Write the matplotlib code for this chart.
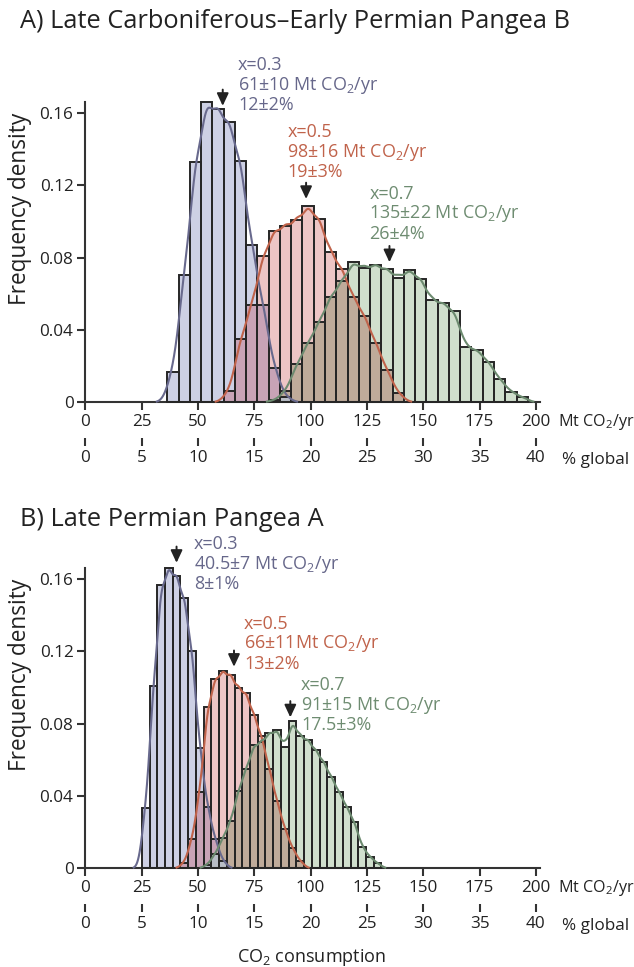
import numpy as np
import matplotlib
matplotlib.use('Agg')
import matplotlib.pyplot as plt

plt.rcParams['font.family'] = ['Open Sans', 'DejaVu Sans']
plt.rcParams['mathtext.fontset'] = 'custom'
plt.rcParams['mathtext.rm'] = 'Open Sans'

# ---- data: fraction per bin ----
# Panel A: bins of 5 Mt, first bin edge 36.4
bin_start_a, bin_w_a = 36.4, 5.0
blue_a = [0.017, 0.0705, 0.133, 0.166, 0.162, 0.155, 0.1335, 0.087, 0.054, 0.019, 0.003]
red_a_first = 5
red_a = [0.006, 0.035, 0.054, 0.081, 0.095, 0.0977, 0.101, 0.1085, 0.1015, 0.083, 0.074,
         0.0585, 0.048, 0.033, 0.018, 0.005]
green_a_first = 9
green_a = [0.001, 0.006, 0.021, 0.033, 0.0446, 0.0585, 0.067, 0.0775, 0.0745, 0.076, 0.0735,
           0.069, 0.0732, 0.0683, 0.0566, 0.0548, 0.0505, 0.0306, 0.029, 0.0225, 0.0129,
           0.0059, 0.0029]

# Panel B: bins of 3.43 Mt, first bin edge 25.1
bin_start_b, bin_w_b = 25.1, 3.43
blue_b = [0.0332, 0.1008, 0.157, 0.166, 0.1617, 0.1497, 0.1203, 0.0667, 0.034, 0.016, 0.004]
red_b_first = 5
red_b = [0.003, 0.016, 0.0424, 0.089, 0.105, 0.109, 0.107, 0.0996, 0.097, 0.085, 0.073,
         0.055, 0.037, 0.022, 0.011, 0.004]
green_b_first = 8
green_b = [0.002, 0.008, 0.017, 0.026, 0.043, 0.055, 0.068, 0.07, 0.0747, 0.0765, 0.067,
           0.0815, 0.073, 0.071, 0.0654, 0.059, 0.0507, 0.0424, 0.0341, 0.0258, 0.012,
           0.0064, 0.0028]

titles = ['A) Late Carboniferous\u2013Early Permian Pangea B', 'B) Late Permian Pangea A']
labels_a = ['x=0.3\n61\u00b110 Mt CO$_2$/yr\n12\u00b12%',
            'x=0.5\n98\u00b116 Mt CO$_2$/yr\n19\u00b13%',
            'x=0.7\n135\u00b122 Mt CO$_2$/yr\n26\u00b14%']
labels_b = ['x=0.3\n40.5\u00b17 Mt CO$_2$/yr\n8\u00b11%',
            'x=0.5\n66\u00b111Mt CO$_2$/yr\n13\u00b12%',
            'x=0.7\n91\u00b115 Mt CO$_2$/yr\n17.5\u00b13%']
means_a = [61, 98, 135]
means_b = [40.5, 66, 91]

mt_ticks = [0, 25, 50, 75, 100, 125, 150, 175, 200]
pct_ticks = [0, 5, 10, 15, 20, 25, 30, 35, 40]
y_ticks = [0, 0.04, 0.08, 0.12, 0.16]

# ---- styles ----
fill_c = ['#cdd0e4', '#edc5c5', '#d0dfcd']
line_c = ['#68698d', '#c0634b', '#6c8a6f']
text_c = ['#66678a', '#c0634b', '#6e8c71']
mix_c = {(0, 1): '#c8a3b6', (1, 2): '#bfab9a', (0, 2): '#b8bdc6'}
edge_c = '#262626'
axis_c = '#333333'
tick_fs = 12.3
ann_fs = 12.9

W, H = 634, 967
fig = plt.figure(figsize=(W / 100, H / 100), dpi=100)


def px_axes(x0, y0, xr, yr):
    # axes placed by pixel position of data origin and scale
    return fig.add_axes([x0 / W, 1 - y0 / H, xr / W, yr / H])


def full_series(vals, first, n):
    arr = np.zeros(n)
    arr[first:first + len(vals)] = vals
    return arr


def draw_panel(ax, start, w, series, firsts, means, arrow_tips, texts, text_pos):
    n = max(f + len(s) for s, f in zip(series, firsts))
    lefts = start + w * np.arange(n)
    full = [full_series(s, f, n) for s, f in zip(series, firsts)]
    for i, h in enumerate(full):
        ax.bar(lefts, h, width=w, align='edge', color=fill_c[i], lw=0, zorder=1, clip_on=False)
    for (i, j), c in mix_c.items():
        ax.bar(lefts, np.minimum(full[i], full[j]), width=w, align='edge', color=c, lw=0,
               zorder=2, clip_on=False)
    for h in full:
        ax.bar(lefts, h, width=w, align='edge', facecolor='none', edgecolor=edge_c, lw=1.4,
               zorder=3, clip_on=False)
    # smooth density curve from the binned values
    xs = np.linspace(0, 200, 1601)
    sig = 0.55 * w
    centers = lefts + w / 2
    for i, h in enumerate(full):
        k = np.exp(-0.5 * ((xs[:, None] - centers[None, :]) / sig) ** 2) / (np.sqrt(2 * np.pi) * sig)
        dens = w * (k * h[None, :]).sum(axis=1)
        m = dens > 4e-4
        ax.plot(xs[m], dens[m], color=line_c[i], lw=1.5, zorder=4, clip_on=False)
    for i in range(3):
        tip = arrow_tips[i]
        ax.annotate('', xy=(means[i], tip), xytext=(means[i], tip + 0.009),
                    arrowprops=dict(arrowstyle='-|>,head_length=0.75,head_width=0.35',
                                    color='#222222', lw=1.4, shrinkA=0, shrinkB=0),
                    annotation_clip=False, zorder=5)
        ax.text(text_pos[i][0], text_pos[i][1], texts[i], color=text_c[i], fontsize=ann_fs,
                ha='left', va='top', linespacing=1.04, clip_on=False)

    ax.set_xlim(0, 202)
    ax.set_ylim(0, 0.166)
    for s in ['top', 'right']:
        ax.spines[s].set_visible(False)
    for s in ['left', 'bottom']:
        ax.spines[s].set_color(axis_c)
        ax.spines[s].set_linewidth(1.5)
    ax.set_xticks(mt_ticks)
    ax.set_yticks(y_ticks)
    ax.set_yticklabels(['0' if v == 0 else f'{v:.2f}' for v in y_ticks])
    ax.tick_params(axis='both', colors=axis_c, length=6, width=1.5, labelsize=tick_fs,
                   labelcolor='#222222', pad=2.5)
    ax.set_ylabel('Frequency density', fontsize=16.3, color='#222222')
    ax.yaxis.set_label_coords(-0.118, 0.645)

    sec = ax.secondary_xaxis(-0.118, functions=(lambda v: v / 5, lambda v: v * 5))
    sec.spines['bottom'].set_visible(False)
    sec.set_xticks(pct_ticks)
    sec.tick_params(axis='x', colors=axis_c, length=6, width=1.5, labelsize=tick_fs,
                    labelcolor='#222222', pad=2.5)


xscale = 2.253
yscale = 72.3 / 0.04
ax_a = px_axes(85.3, 402.3, 202 * xscale, 0.166 * yscale)
ax_b = px_axes(85.3, 868.3, 202 * xscale, 0.166 * yscale)

draw_panel(ax_a, bin_start_a, bin_w_a, [blue_a, red_a, green_a], [0, red_a_first, green_a_first],
           means_a, [0.1640, 0.1125, 0.0775], labels_a,
           [(67.8, 0.1915), (89.6, 0.1545), (126.0, 0.1203)])
draw_panel(ax_b, bin_start_b, bin_w_b, [blue_b, red_b, green_b], [0, red_b_first, green_b_first],
           means_b, [0.1690, 0.1115, 0.0835], labels_b,
           [(48.3, 0.1843), (70.5, 0.1404), (95.7, 0.1063)])

for t, yy in zip(titles, [22, 520]):
    fig.text(20 / W, 1 - yy / H, t, fontsize=18.3, ha='left', va='center', color='#222222')
for y0 in [402.3, 868.3]:
    fig.text(558 / W, 1 - (y0 + 20) / H, 'Mt CO$_2$/yr', fontsize=11.6, ha='left', va='center',
             color='#222222')
    fig.text(562 / W, 1 - (y0 + 58) / H, '% global', fontsize=12.3, ha='left', va='center',
             color='#222222')
fig.text(311 / W, 1 - 957 / H, 'CO$_2$ consumption', fontsize=13, ha='center', va='center',
         color='#222222')

fig.savefig('out.png', dpi=100)
